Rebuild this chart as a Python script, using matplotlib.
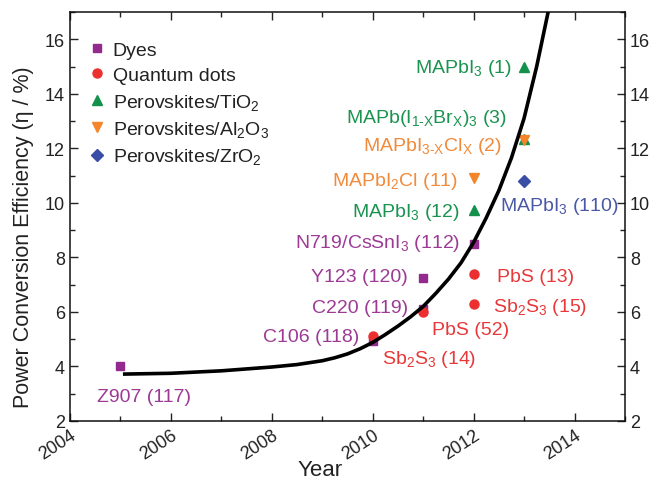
import matplotlib
matplotlib.use("Agg")
import matplotlib.pyplot as plt
from matplotlib.ticker import MultipleLocator

plt.rcParams['font.family'] = ['Liberation Sans', 'DejaVu Sans']
plt.rcParams['mathtext.fontset'] = 'custom'
plt.rcParams['mathtext.rm'] = 'Liberation Sans'
plt.rcParams['mathtext.it'] = 'Liberation Sans:italic'
plt.rcParams['mathtext.default'] = 'rm'

# ---- data ----
dyes_year = [2005, 2010, 2011, 2011, 2012]
dyes_eff = [4.0, 4.95, 6.1, 7.25, 8.5]

qd_year = [2010, 2011, 2012, 2012]
qd_eff = [5.1, 6.0, 7.4, 6.3]

tio2_year = [2013, 2013, 2012]
tio2_eff = [15.0, 12.35, 9.75]

al2o3_year = [2013, 2012]
al2o3_eff = [12.3, 10.9]

zro2_year = [2013]
zro2_eff = [10.8]

curve_year = [2005.05, 2006.0, 2007.0, 2008.0, 2008.5, 2009.0, 2009.25, 2009.5, 2009.75,
              2010.0, 2010.25, 2010.5, 2010.75, 2011.0, 2011.25, 2011.5, 2011.75,
              2012.0, 2012.25, 2012.5, 2012.75, 2013.0, 2013.25, 2013.5]
curve_eff = [3.72, 3.75, 3.84, 3.98, 4.07, 4.21, 4.32, 4.46, 4.65,
             4.88, 5.17, 5.48, 5.82, 6.2, 6.68, 7.2, 7.8,
             8.55, 9.45, 10.45, 11.65, 13.1, 15.0, 17.2]

# labels: (text, x, y_baseline, ha, colour key)
labels = [
    (r'MAPbI$_3$ (1)', 2012.75, 14.8, 'right', 'green'),
    (r'MAPb(I$_{1\text{-}X}$Br$_X$)$_3$ (3)', 2012.66, 12.98, 'right', 'green'),
    (r'MAPbI$_{3\text{-}X}$Cl$_X$ (2)', 2012.56, 11.93, 'right', 'orange'),
    (r'MAPbI$_2$Cl (11)', 2011.69, 10.65, 'right', 'orange'),
    (r'MAPbI$_3$ (12)', 2011.73, 9.53, 'right', 'green'),
    (r'MAPbI$_3$ (110)', 2012.52, 9.73, 'left', 'blue'),
    (r'N719/CsSnI$_3$ (112)', 2011.73, 8.38, 'right', 'purple'),
    (r'Y123 (120)', 2010.7, 7.14, 'right', 'purple'),
    (r'C220 (119)', 2010.7, 5.98, 'right', 'purple'),
    (r'C106 (118)', 2009.73, 4.95, 'right', 'purple'),
    (r'PbS (13)', 2012.46, 7.15, 'left', 'red'),
    (r'Sb$_2$S$_3$ (15)', 2012.39, 6.03, 'left', 'red'),
    (r'PbS (52)', 2011.17, 5.19, 'left', 'red'),
    (r'Sb$_2$S$_3$ (14)', 2010.18, 4.11, 'left', 'red'),
    (r'Z907 (117)', 2004.53, 2.74, 'left', 'purple'),
]

marker_col = {'purple': '#932a8e', 'red': '#ec2f2f', 'green': '#13914a',
              'orange': '#f5852a', 'blue': '#3a4ea6'}
text_col = {'purple': '#9c3a94', 'red': '#e8383a', 'green': '#1a9350',
            'orange': '#f18a3a', 'blue': '#4a58a6'}

fig = plt.figure(figsize=(6.51, 4.85), dpi=100)
ax = fig.add_axes([0.1075, 0.1299, 0.8525, 0.8433])

ax.plot(curve_year, curve_eff, color='black', lw=2.6, zorder=4,
        solid_capstyle='butt', solid_joinstyle='round')

ax.plot(dyes_year, dyes_eff, ls='none', marker='s', ms=5.5, color=marker_col['purple'],
        label='Dyes', zorder=3)
ax.plot(qd_year, qd_eff, ls='none', marker='o', ms=6.5, color=marker_col['red'],
        label='Quantum dots', zorder=3)
ax.plot(tio2_year, tio2_eff, ls='none', marker='^', ms=7.5, color=marker_col['green'],
        label=r'Perovskites/TiO$_2$', zorder=3)
ax.plot(al2o3_year, al2o3_eff, ls='none', marker='v', ms=7.5, color=marker_col['orange'],
        label=r'Perovskites/Al$_2$O$_3$', zorder=3)
ax.plot(zro2_year, zro2_eff, ls='none', marker='D', ms=6, color=marker_col['blue'],
        label=r'Perovskites/ZrO$_2$', zorder=3)

for txt, x, y, ha, c in labels:
    ax.text(x, y, txt, ha=ha, va='baseline', color=text_col[c], fontsize=14, zorder=5)

ax.set_xlim(2004, 2015)
ax.set_ylim(2, 17)
ax.xaxis.set_major_locator(MultipleLocator(2))
ax.xaxis.set_minor_locator(MultipleLocator(1))
ax.yaxis.set_major_locator(MultipleLocator(2))
ax.yaxis.set_minor_locator(MultipleLocator(1))
ax.tick_params(which='both', direction='in', top=True, right=True, labelright=True,
               labelsize=13, colors='#222222', width=1.0)
ax.tick_params(which='major', length=6)
ax.tick_params(which='minor', length=3.5)
for lab in ax.get_xticklabels():
    lab.set_rotation(33)
    lab.set_ha('right')
    lab.set_rotation_mode('anchor')
for s in ax.spines.values():
    s.set_linewidth(1.1)
    s.set_color('#111111')

ax.set_xlabel('Year', fontsize=16, color='#222222')
ax.xaxis.set_label_coords(0.45, -0.093)
ax.set_ylabel('Power Conversion Efficiency (η / %)', fontsize=15.5, color='#222222')
ax.yaxis.set_label_coords(-0.064, 0.452)

leg = ax.legend(loc='upper left', bbox_to_anchor=(0.0, 0.975), frameon=False,
                fontsize=14, handlelength=0.8, handletextpad=0.4, labelspacing=0.38,
                borderaxespad=0.6)
for t in leg.get_texts():
    t.set_color('#222222')

fig.savefig('out.png', dpi=100)
